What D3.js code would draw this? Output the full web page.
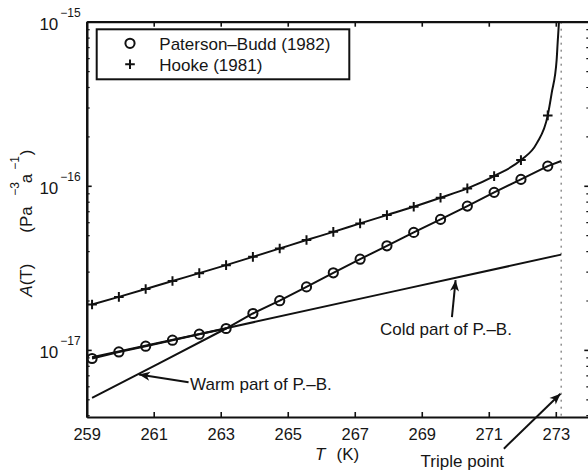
<!DOCTYPE html>
<html>
<head>
<meta charset="utf-8">
<script src="https://cdn.jsdelivr.net/npm/d3@7"></script>
<style>
  body { margin: 0; background: #fff; }
  svg { display: block; }
  text { font-family: "Liberation Sans", Arial, sans-serif; fill: #161616; }
</style>
</head>
<body>
<svg id="chart" width="588" height="470"></svg>
<script>
// Temperatures (K) of the tabulated points, -14 °C ... -0.4 °C in 0.8 K steps
const temps = [259.16, 259.96, 260.76, 261.56, 262.36, 263.16, 263.96, 264.76, 265.56,
               266.36, 267.16, 267.96, 268.76, 269.56, 270.36, 271.16, 271.96, 272.76];

// Rate factor A(T) in Pa^-3 a^-1
const patersonBudd = [8.86e-18, 9.72e-18, 1.053e-17, 1.146e-17, 1.246e-17, 1.350e-17,
                      1.667e-17, 1.995e-17, 2.42e-17, 2.95e-17, 3.57e-17, 4.31e-17,
                      5.20e-17, 6.24e-17, 7.52e-17, 9.12e-17, 1.094e-16, 1.318e-16];
const hooke = [1.891e-17, 2.104e-17, 2.35e-17, 2.63e-17, 2.935e-17, 3.285e-17,
               3.69e-17, 4.15e-17, 4.67e-17, 5.24e-17, 5.90e-17, 6.63e-17,
               7.45e-17, 8.45e-17, 9.64e-17, 1.146e-16, 1.434e-16, 2.686e-16];

// Extra points of the Hooke curve close to the melting point
const hookeTailT = [272.43, 272.876, 273.025, 273.055, 273.094, 273.11];
const hookeTailA = [1.814e-16, 3.66e-16, 5.84e-16, 7.42e-16, 1.0e-15, 1.18e-15];

// Paterson–Budd curve carried on to the triple point
const pbEndT = 273.16, pbEndA = 1.415e-16;

// Straight extensions of the two Arrhenius branches
const coldT = [259.16, 263.16, 268.16, 273.16];
const coldA = [9.03e-18, 1.356e-17, 2.273e-17, 3.806e-17];
const warmT = [259.16, 261.16, 263.16];
const warmA = [5.10e-18, 8.27e-18, 1.35e-17];

const tripleT = 273.16;

// Axis ticks
const xTicks = [259, 261, 263, 265, 267, 269, 271, 273];
const yMajor = [1e-17, 1e-16, 1e-15];
const yExp = ["−17", "−16", "−15"];

// Annotations: label, arrow tail and head in data coordinates
const notes = [
  { text: "Warm part of P.–B.", tail: [262.04, 6.35e-18], head: [260.56, 7.08e-18], anchor: "start", dx: 1.5, dy: 8 },
  { text: "Cold part of P.–B.", tail: [269.90, 1.582e-17], head: [270.01, 2.66e-17], anchor: "middle", dx: -6, dy: 18 },
  { text: "Triple point",       tail: [271.45, 2.5e-18],  head: [273.14, 5.41e-18], anchor: "middle", dx: -41.5, dy: 18 }
];

const svg = d3.select("#chart");
const L = 86.7, R = 589.3, T = 21.7, B = 417;

const x = d3.scaleLinear().domain([259, 274]).range([L, R]);
const y = d3.scaleLog().domain([3.9e-18, 1e-15]).range([B, T]);

const ink = "#111";

svg.append("defs").append("clipPath").attr("id", "plotclip")
  .append("rect").attr("x", L).attr("y", T).attr("width", R - L).attr("height", B - T);

svg.append("marker").attr("id", "head")
  .attr("viewBox", "-12 -6 14 12").attr("markerWidth", 14).attr("markerHeight", 12)
  .attr("refX", 0).attr("refY", 0).attr("orient", "auto").attr("markerUnits", "userSpaceOnUse")
  .append("path").attr("d", "M0,0 L-11,-4.5 L-8,0 L-11,4.5 Z").attr("fill", ink);

// Triple-point dotted line
svg.append("line")
  .attr("x1", x(tripleT)).attr("x2", x(tripleT)).attr("y1", T).attr("y2", B)
  .attr("stroke", "#555").attr("stroke-width", 1).attr("stroke-dasharray", "2,5");

// Minor log ticks
const yMinor = [];
for (let e = -18; e <= -16; e++) for (let m = 2; m <= 9; m++) {
  const v = m * Math.pow(10, e);
  if (v >= 3.95e-18 && v < 1e-15) yMinor.push(v);
}

// Axes
const gx = svg.append("g").attr("transform", `translate(0,${B})`)
  .call(d3.axisBottom(x).tickValues(xTicks).tickSizeInner(-5).tickSizeOuter(0).tickPadding(11).tickFormat(d3.format("d")));
const gxTop = svg.append("g").attr("transform", `translate(0,${T})`)
  .call(d3.axisTop(x).tickValues(xTicks).tickSizeInner(-5).tickSizeOuter(0).tickFormat(""));
const gy = svg.append("g").attr("transform", `translate(${L},0)`)
  .call(d3.axisLeft(y).tickValues(yMajor).tickSizeInner(-5).tickSizeOuter(0).tickFormat(""));
const gyMinor = svg.append("g").attr("transform", `translate(${L},0)`)
  .call(d3.axisLeft(y).tickValues(yMinor).tickSizeInner(-3).tickSizeOuter(0).tickFormat(""));
const gyR = svg.append("g").attr("transform", `translate(${R},0)`)
  .call(d3.axisRight(y).tickValues(yMajor).tickSizeInner(-5).tickSizeOuter(0).tickFormat(""));
const gyRMinor = svg.append("g").attr("transform", `translate(${R},0)`)
  .call(d3.axisRight(y).tickValues(yMinor).tickSizeInner(-3).tickSizeOuter(0).tickFormat(""));

[gx, gxTop, gy, gyMinor, gyR, gyRMinor].forEach(g => {
  g.select(".domain").attr("stroke", ink).attr("stroke-width", 2.2);
  g.selectAll(".tick line").attr("stroke", ink).attr("stroke-width", 1.6);
});
gyMinor.selectAll(".tick line").attr("stroke-width", 1.2);
gyRMinor.selectAll(".tick line").attr("stroke-width", 1.2);
gx.selectAll(".tick text").attr("font-size", 16.5).attr("fill", "#161616")
  .attr("font-family", "Liberation Sans, Arial, sans-serif");

// Decade labels 10^n
gy.selectAll(".tick").each(function (d, i) {
  const t = d3.select(this);
  t.append("text").attr("x", -28.4).attr("y", 8).attr("text-anchor", "end")
    .attr("font-size", 17).attr("fill", "#161616").text("10");
  t.append("text").attr("x", -26.5).attr("y", -5.5).attr("text-anchor", "start")
    .attr("font-size", 12).attr("fill", "#161616").text(yExp[i]);
});

// Axis titles
const xt = svg.append("text").attr("x", 315).attr("y", 460).attr("font-size", 17);
xt.append("tspan").attr("font-style", "italic").text("T");
xt.append("tspan").attr("x", 336.5).text("(K)");

const yl = svg.append("g").attr("transform", "translate(31.5,296.7) rotate(-90)");
yl.append("text").attr("x", 0).attr("y", 0).attr("font-size", 17)
  .call(t => { t.append("tspan").attr("font-style", "italic").text("A"); t.append("tspan").text("(T)"); });
yl.append("text").attr("x", 64).attr("y", 0).attr("font-size", 17).text("(Pa");
yl.append("text").attr("x", 101).attr("y", -13).attr("font-size", 12).text("−3");
yl.append("text").attr("x", 113.5).attr("y", 0).attr("font-size", 17).text("a");
yl.append("text").attr("x", 127).attr("y", -13).attr("font-size", 12).text("−1");
yl.append("text").attr("x", 141.5).attr("y", 0).attr("font-size", 17).text(")");

// Curves
const plot = svg.append("g").attr("clip-path", "url(#plotclip)");
const straight = d3.line().x(d => x(d[0])).y(d => y(d[1]));
const smooth = d3.line().x(d => x(d[0])).y(d => y(d[1])).curve(d3.curveMonotoneX);

const pbPts = temps.map((t, i) => [t, patersonBudd[i]]).concat([[pbEndT, pbEndA]]);
const hkPts = temps.map((t, i) => [t, hooke[i]])
  .concat(hookeTailT.map((t, i) => [t, hookeTailA[i]]))
  .sort((a, b) => a[0] - b[0]);
const coldPts = coldT.map((t, i) => [t, coldA[i]]);
const warmPts = warmT.map((t, i) => [t, warmA[i]]);

const lineStyle = p => p.attr("fill", "none").attr("stroke", ink).attr("stroke-width", 2)
  .attr("stroke-linejoin", "round").attr("stroke-linecap", "butt");
plot.append("path").datum(coldPts).attr("d", straight).call(lineStyle);
plot.append("path").datum(warmPts).attr("d", straight).call(lineStyle);
plot.append("path").datum(pbPts).attr("d", straight).call(lineStyle);
plot.append("path").datum(hkPts).attr("d", smooth).call(lineStyle);

// Markers
plot.selectAll("circle.pb").data(temps).join("circle").attr("class", "pb")
  .attr("cx", t => x(t)).attr("cy", (t, i) => y(patersonBudd[i])).attr("r", 4.6)
  .attr("fill", "none").attr("stroke", ink).attr("stroke-width", 2);
const plus = d3.symbol().type(d3.symbolCross);
plot.selectAll("path.hk").data(temps).join("path").attr("class", "hk")
  .attr("transform", (t, i) => `translate(${x(t)},${y(hooke[i])})`)
  .attr("d", "M-4.8,0H4.8M0,-4.8V4.8")
  .attr("fill", "none").attr("stroke", ink).attr("stroke-width", 2);

// Annotations
notes.forEach(n => {
  const [tx, ty] = [x(n.tail[0]), y(n.tail[1])];
  svg.append("line")
    .attr("x1", tx).attr("y1", ty).attr("x2", x(n.head[0])).attr("y2", y(n.head[1]))
    .attr("stroke", ink).attr("stroke-width", 2).attr("marker-end", "url(#head)");
  svg.append("text").attr("x", tx + n.dx).attr("y", ty + n.dy).attr("text-anchor", n.anchor)
    .attr("font-size", 17).text(n.text);
});

// Legend
const lg = svg.append("g");
lg.append("rect").attr("x", 96.7).attr("y", 29.3).attr("width", 252.6).attr("height", 50)
  .attr("fill", "#fff").attr("stroke", ink).attr("stroke-width", 2);
lg.append("circle").attr("cx", 130).attr("cy", 43.3).attr("r", 4.6)
  .attr("fill", "none").attr("stroke", ink).attr("stroke-width", 2);
lg.append("path").attr("transform", "translate(130,64.3)").attr("d", "M-4.8,0H4.8M0,-4.8V4.8")
  .attr("fill", "none").attr("stroke", ink).attr("stroke-width", 2);
lg.append("text").attr("x", 159.3).attr("y", 49.5).attr("font-size", 17).text("Paterson–Budd (1982)");
lg.append("text").attr("x", 159.3).attr("y", 71).attr("font-size", 17).text("Hooke (1981)");
</script>
</body>
</html>
